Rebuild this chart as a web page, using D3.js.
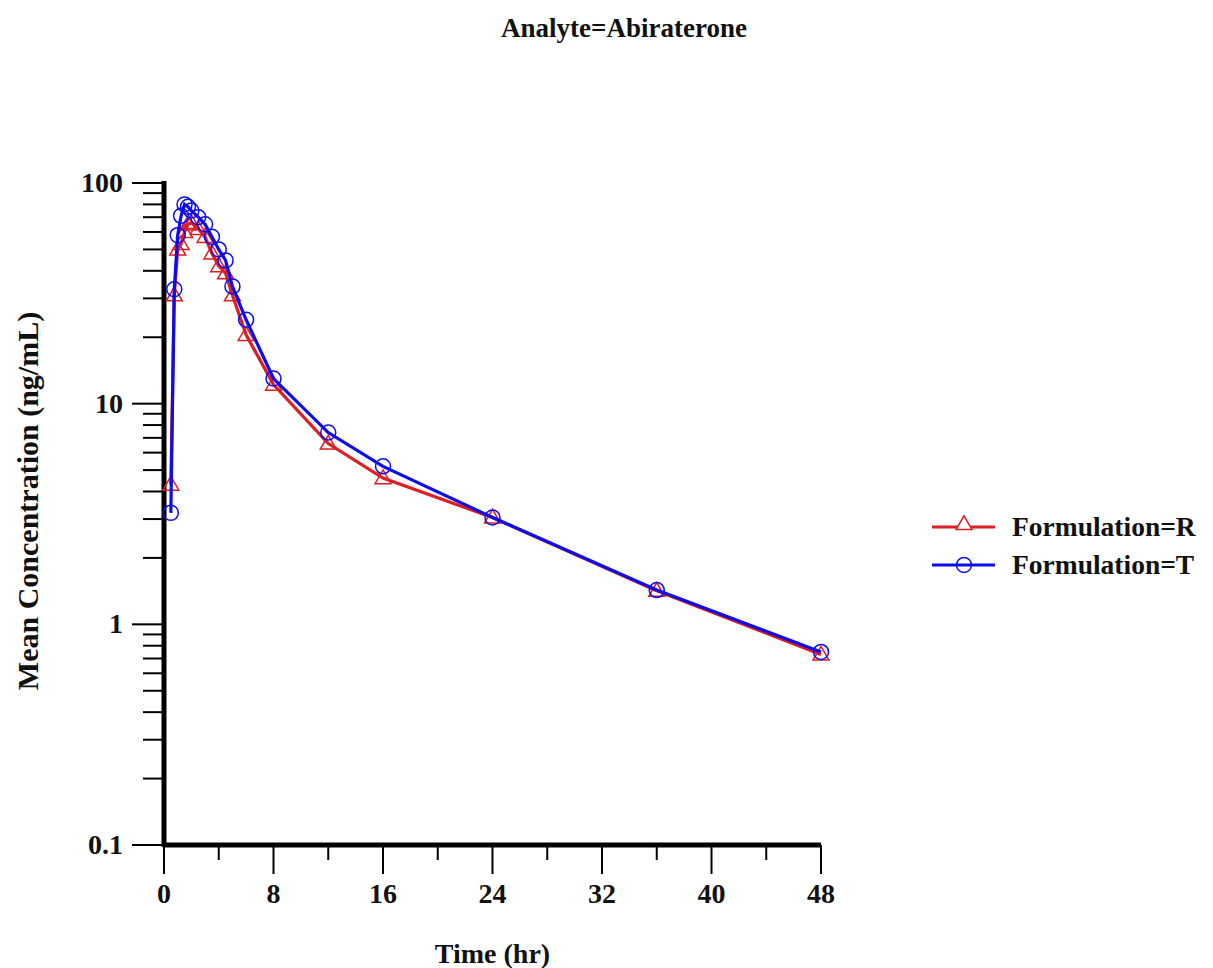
<!DOCTYPE html>
<html><head><meta charset="utf-8">
<script src="https://cdn.jsdelivr.net/npm/d3@7"></script>
<style>
body{margin:0;background:#fff;}
text{font-family:"Liberation Serif","Times New Roman",serif;font-weight:bold;fill:#111;}
</style></head>
<body><svg id="c" width="1213" height="968"></svg>
<script>
const times = [0.5, 0.75, 1, 1.25, 1.5, 1.75, 2, 2.5, 3, 3.5, 4, 4.5, 5, 6, 8, 12, 16, 24, 36, 48];
const concR = [4.3, 31, 50, 53, 60, 65, 66, 62, 57, 48, 42, 39, 31, 20.5, 12.2, 6.6, 4.6, 3.05, 1.42, 0.73];
const concT = [3.2, 33, 58, 71, 80, 78, 75, 70, 65, 57, 50, 44.6, 34, 24, 13, 7.4, 5.2, 3.05, 1.43, 0.75];
const seriesNames = ["Formulation=R", "Formulation=T"];
const xTicks = [0, 8, 16, 24, 32, 40, 48];
const yTicks = [0.1, 1, 10, 100];
const title = "Analyte=Abiraterone";
const xLabel = "Time (hr)";
const yLabel = "Mean Concentration (ng/mL)";

const svg = d3.select("#c");
const x = d3.scaleLinear().domain([0, 48]).range([164, 821]);
const y = d3.scaleLog().domain([0.1, 100]).range([845, 183]);
const colors = ["#de1d24", "#0c0cee"];

// title
svg.append("text").attr("x", 624).attr("y", 37).attr("text-anchor", "middle")
  .style("font-size", "27px").text(title);

// x axis ticks
const xMinor = d3.range(4, 48, 8);
const gx = svg.append("g");
gx.selectAll("line.maj").data(xTicks).join("line")
  .attr("x1", d => x(d)).attr("x2", d => x(d)).attr("y1", 845).attr("y2", 874)
  .attr("stroke", "#000").attr("stroke-width", 2);
gx.selectAll("line.min").data(xMinor).join("line")
  .attr("x1", d => x(d)).attr("x2", d => x(d)).attr("y1", 845).attr("y2", 860)
  .attr("stroke", "#000").attr("stroke-width", 2);
gx.selectAll("text").data(xTicks).join("text")
  .attr("x", d => x(d)).attr("y", 903).attr("text-anchor", "middle")
  .style("font-size", "28px").text(d => d);

// y axis ticks
const yMinor = [];
[0.1, 1, 10].forEach(b => { for (let k = 2; k <= 9; k++) yMinor.push(b * k); });
const gy = svg.append("g");
gy.selectAll("line.maj").data(yTicks).join("line")
  .attr("x1", 132).attr("x2", 164).attr("y1", d => y(d)).attr("y2", d => y(d))
  .attr("stroke", "#000").attr("stroke-width", 2);
gy.selectAll("line.min").data(yMinor).join("line")
  .attr("x1", 143).attr("x2", 164).attr("y1", d => y(d)).attr("y2", d => y(d))
  .attr("stroke", "#000").attr("stroke-width", 2);
gy.selectAll("text").data(yTicks).join("text")
  .attr("x", 123).attr("y", d => y(d) + 9).attr("text-anchor", "end")
  .style("font-size", "28px").text(d => d);

// axis lines
svg.append("line").attr("x1", x(0)).attr("x2", x(48)).attr("y1", 845).attr("y2", 845)
  .attr("stroke", "#000").attr("stroke-width", 5);
svg.append("line").attr("x1", 164).attr("x2", 164).attr("y1", y(100) - 2).attr("y2", 847)
  .attr("stroke", "#000").attr("stroke-width", 5);

// axis labels
svg.append("text").attr("x", x(24)).attr("y", 963).attr("text-anchor", "middle")
  .style("font-size", "28px").text(xLabel);
svg.append("text").attr("transform", "translate(38,501) rotate(-90)").attr("text-anchor", "middle")
  .style("font-size", "30px").text(yLabel);

// series
const line = d3.line().x(d => x(d[0])).y(d => y(d[1]));
const data = [concR, concT].map(vals => times.map((t, i) => [t, vals[i]]));
const tri = d3.symbol().type(d3.symbolTriangle).size(110);
data.forEach((pts, si) => {
  const g = svg.append("g");
  g.append("path").attr("d", line(pts)).attr("fill", "none")
    .attr("stroke", colors[si]).attr("stroke-width", 3.2);
  if (si === 0) {
    g.selectAll("path.m").data(pts).join("path").attr("class", "m")
      .attr("d", tri).attr("transform", d => `translate(${x(d[0])},${y(d[1]) + 1})`)
      .attr("fill", "none").attr("stroke", colors[si]).attr("stroke-width", 1.5);
  } else {
    g.selectAll("circle").data(pts).join("circle")
      .attr("cx", d => x(d[0])).attr("cy", d => y(d[1])).attr("r", 7.5)
      .attr("fill", "none").attr("stroke", colors[si]).attr("stroke-width", 1.5);
  }
});

// legend
seriesNames.forEach((name, i) => {
  const ly = 527 + i * 38;
  const g = svg.append("g");
  g.append("line").attr("x1", 932).attr("x2", 995).attr("y1", ly).attr("y2", ly)
    .attr("stroke", colors[i]).attr("stroke-width", 3.2);
  if (i === 0) {
    g.append("path").attr("d", tri).attr("transform", `translate(964,${ly - 2})`)
      .attr("fill", "#fff").attr("stroke", colors[i]).attr("stroke-width", 1.5);
  } else {
    g.append("circle").attr("cx", 964).attr("cy", ly).attr("r", 7.5)
      .attr("fill", "none").attr("stroke", colors[i]).attr("stroke-width", 1.5);
  }
  g.append("text").attr("x", 1012).attr("y", ly + 9).style("font-size", "27.5px").text(name);
});
</script></body></html>
